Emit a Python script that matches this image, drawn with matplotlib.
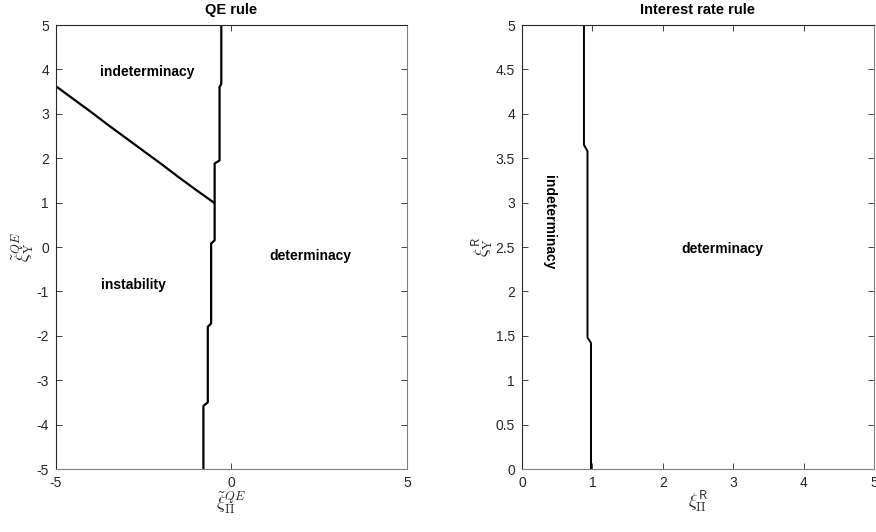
import matplotlib
matplotlib.use("Agg")
import matplotlib.pyplot as plt

plt.rcParams['font.family'] = ['Liberation Sans', 'DejaVu Sans']
plt.rcParams['mathtext.fontset'] = 'cm'
plt.rcParams['axes.unicode_minus'] = False

# Left panel (QE rule) boundaries
qe_diag_x = [-5.0, -4.5, -4.0, -3.5, -3.0, -2.5, -2.0, -1.5, -1.0, -0.5]
qe_diag_y = [3.62, 3.33, 3.04, 2.74, 2.45, 2.16, 1.87, 1.57, 1.28, 1.0]
qe_vert_x = [-0.29, -0.29, -0.34, -0.34, -0.48, -0.48, -0.58, -0.58, -0.675, -0.675, -0.80, -0.80]
qe_vert_y = [5.0, 3.68, 3.6, 1.95, 1.88, 0.15, 0.08, -1.72, -1.8, -3.5, -3.58, -5.0]

# Right panel (interest rate rule) boundary
ir_x = [0.88, 0.88, 0.93, 0.93, 0.98, 0.98]
ir_y = [5.0, 3.65, 3.58, 1.48, 1.42, 0.0]

left_xticks = [-5, 0, 5]
left_yticks = [-5, -4, -3, -2, -1, 0, 1, 2, 3, 4, 5]
right_xticks = [0, 1, 2, 3, 4, 5]
right_yticks = [0, 0.5, 1, 1.5, 2, 2.5, 3, 3.5, 4, 4.5, 5]
right_yticklabels = ['0', '0.5', '1', '1.5', '2', '2.5', '3', '3.5', '4', '4.5', '5']

fig = plt.figure(figsize=(8.76, 5.32), dpi=100)
axL = fig.add_axes([0.0639, 0.1184, 0.4007, 0.8346])
axR = fig.add_axes([0.5959, 0.1184, 0.4018, 0.8346])

dark = '#262626'
light = '#808080'

def style(ax):
    for s in ['left', 'top']:
        ax.spines[s].set_color(dark)
    for s in ['bottom', 'right']:
        ax.spines[s].set_color(light)
    for s in ax.spines.values():
        s.set_linewidth(0.8)
    ax.tick_params(direction='in', top=True, right=True, length=4, width=0.6,
                   colors=dark, labelsize=10, labelcolor=dark, pad=5)

axL.plot(qe_diag_x, qe_diag_y, color='black', lw=1.6)
axL.plot(qe_vert_x, qe_vert_y, color='black', lw=1.6)
axL.set_xlim(-5, 5)
axL.set_ylim(-5, 5)
axL.set_xticks(left_xticks)
axL.set_yticks(left_yticks)
style(axL)
axL.set_title('QE rule', fontsize=10.5, fontweight='bold', pad=8)
axL.set_xlabel(r'$\tilde{\xi}_{\Pi}^{QE}$', fontsize=13, color=dark, labelpad=0)
axL.set_ylabel(r'$\tilde{\xi}_{\mathrm{Y}}^{QE}$', fontsize=13, color=dark, labelpad=0)
axL.text(-2.4, 3.95, 'indeterminacy', fontsize=10, fontweight='bold', ha='center', va='center')
axL.text(-2.8, -0.85, 'instability', fontsize=10, fontweight='bold', ha='center', va='center')
axL.text(2.25, -0.2, 'determinacy', fontsize=10, fontweight='bold', ha='center', va='center')

axR.plot(ir_x, ir_y, color='black', lw=1.4)
axR.set_xlim(0, 5)
axR.set_ylim(0, 5)
axR.set_xticks(right_xticks)
axR.set_yticks(right_yticks)
axR.set_yticklabels(right_yticklabels)
style(axR)
axR.set_title('Interest rate rule', fontsize=10.5, fontweight='bold', pad=8)
axR.set_xlabel(r'$\xi_{\Pi}^{\mathsf{R}}$', fontsize=13, color=dark, labelpad=0)
axR.set_ylabel(r'$\xi_{\mathrm{Y}}^{\mathsf{R}}$', fontsize=13, color=dark, labelpad=0)
axR.text(0.38, 2.78, 'indeterminacy', fontsize=10, fontweight='bold', ha='center', va='center', rotation=-90)
axR.text(2.85, 2.48, 'determinacy', fontsize=10, fontweight='bold', ha='center', va='center')

fig.savefig('out.png', dpi=100)
